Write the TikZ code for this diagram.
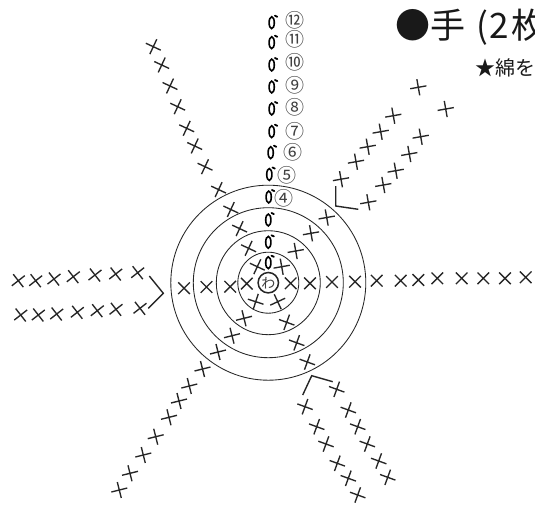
\documentclass[tikz,border=0pt]{standalone}
\usepackage{fontspec}
\newfontfamily\jpfont{Noto Sans CJK JP}
\tikzset{
  ringline/.style={draw=black!85,line width=0.85pt},
  stitch/.style={draw=black!85,line width=1.35pt},
  bracketline/.style={draw=black!85,line width=1.4pt},
  numlabel/.style={font=\jpfont\fontsize{19}{19}\selectfont,text=black!75,inner sep=0pt},
}
\newcommand{\sclist}[2]{\foreach \x/\y in {#2}{\draw[stitch,shift={(\x,\y)},rotate=#1] (-8.2pt,0pt)--(8.2pt,0pt) (0pt,-8.2pt)--(0pt,8.2pt);}}
\newcommand{\chainlist}[1]{\foreach \x/\y in {#1}{\draw[draw=black,line width=1.6pt,shift={(\x,\y)}] (0pt,0pt) ellipse[x radius=2.6pt,y radius=5.9pt];\draw[draw=black,line width=1.8pt,shift={(\x,\y)},line cap=round] (3.2pt,7pt)--(5.6pt,5.9pt);}}
\begin{document}
\begin{tikzpicture}[x=1pt,y=-1pt]
\useasboundingbox (0,0) rectangle (535,506);
\clip (0,0) rectangle (535,506);
\fill[white] (0,0) rectangle (535,506);
% rings
\foreach \r in {97.5,75,52,30.5}{\draw[ringline] (268.3,282.7) circle[radius=\r pt];}
\draw[draw=black!85,line width=1.5pt] (268.3,282.7) circle[radius=10.2pt];
\node[font=\jpfont\fontsize{14}{14}\selectfont,text=black!75,inner sep=0pt] (center) at (268.3,283) {わ};
% chain column
\chainlist{271.7/22.7,271.7/42.7,271.7/65,271.7/87,271.7/109,271.7/131.7,270.7/152.7,269.3/174.5,268.7/197,268.3/220,268.3/242.3,268.3/262.7}
% numbers
\node[numlabel] (n12) at (295,20) {⑫};
\node[numlabel] (n11) at (294.5,39) {⑪};
\node[numlabel] (n10) at (294.5,62.3) {⑩};
\node[numlabel] (n9) at (294.5,85) {⑨};
\node[numlabel] (n8) at (294.5,107.7) {⑧};
\node[numlabel] (n7) at (294.5,131) {⑦};
\node[numlabel] (n6) at (292.7,152.7) {⑥};
\node[numlabel] (n5) at (286.7,175) {⑤};
\node[numlabel] (n4) at (284.3,198) {④};
% upper-left spoke
\sclist{-25}{153.3/46.7,161.7/65,170/86,177.7/106.7,186.7/128.3,194.7/146,205/166.7,218.6/189.6,230.8/209.5,239.6/228.6,248.6/248.3,257.3/266.7}
% left rows
\sclist{38}{18.3/280.7,35.7/280.7,54/279,73.3/276.7,95/275,115.7/274,137.7/272.7,20.7/315,38.3/315,56.7/314,77.3/312.3,97.3/310.7,116/309.3,140/308.3}
\sclist{45}{184/288.2,206.5/287,230.2/286.7,246.8/283.6,290.7/283.3,310/283.3,332/282,355/281.7,376.7/280.7,400.7/280.7,418.3/280,437.3/278.3,461.7/278.3,483.3/278.3,505/278.3,525.7/277.3}
% upper-right spokes
\sclist{10}{418.3/87.3,393.3/115.7,380.7/131.7,367.7/146.7,356/161.7,341/179.2,445.7/109,420.7/136.7,409.3/154,395.7/170.7,383.3/185,368.3/202.3,326.7/217.5,311/233.3,295.7/251,281.7/266.7}
% lower-left spoke
\sclist{14}{244/318.3,232/335.7,218/352,202.5/369,189.3/386,179/401,169/417.3,155.7/436.7,143.3/455,130/473.3,119.3/490}
\sclist{-18}{255.7/301.7}
% lower-right spokes
\sclist{-20}{336.7/389.3,348.3/410,357.7/426.7,367.3/444,378.7/461,387.7/477.3,305/406.7,316.7/426.7,326/444,337.3/463.3,348.3/478.3,357.7/495,286.7/322.3,296.7/342.8,307.3/362}
\sclist{25}{277.7/301.7}
% brackets
\draw[bracketline] (335.7,186)--(335.7,206)--(358.3,209.3);
\draw[bracketline] (149.3,276)--(163.3,293.3)--(148.3,308.3);
\draw[bracketline] (302.7,395)--(311.7,375.7)--(332.7,381.7);
% headings
\node[anchor=west,inner sep=0pt,font=\jpfont\fontsize{35}{36}\selectfont,text=black!90] (title) at (395,27) {●手\hspace{0.33em}(\hspace{0.04em}2\hspace{0.06em}枚};
\node[anchor=west,inner sep=0pt,font=\jpfont\fontsize{20}{20}\selectfont,text=black!90] (note) at (475,68) {★綿を};
\end{tikzpicture}
\end{document}
